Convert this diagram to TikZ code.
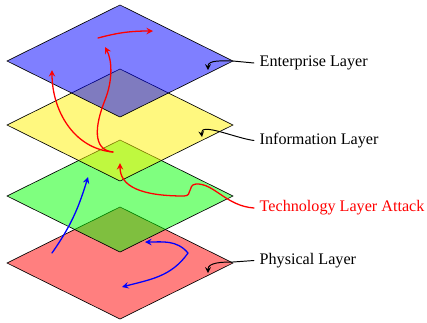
\documentclass[tikz,border=0pt]{standalone}
\usepackage{fontspec}
\setmainfont{Liberation Serif}
\usepackage{tikz}
\usetikzlibrary{arrows}
\tikzset{>=stealth}
\tikzset{layer/.style={draw=black, fill opacity=.5},
  lbl/.style={anchor=west},
  attack/.style={thick, red, ->},
  move/.style={thick, blue, ->},
  pointer/.style={semithick, ->}}

\begin{document}
\begin{tikzpicture}[line cap=round, x=0.6196pt, y=-0.6196pt]

  \useasboundingbox (0,0) rectangle (427,322);

  \draw [layer, fill=red] (7,263) -- (120,207) -- (233,263) -- (120,319) -- cycle;
  \draw [layer, fill=green] (7,196) -- (120,140) -- (233,196) -- (120,252) -- cycle;
  \draw [layer, fill=yellow] (7,125) -- (120,69) -- (233,125) -- (120,181) -- cycle;
  \draw [layer, fill=blue] (7,61) -- (120,5) -- (233,61) -- (120,117) -- cycle;



  \node [lbl] (ent) at (254,63) {Enterprise Layer};
  \node [lbl] (inf) at (254,140.5) {Information Layer};
  \node [lbl, red] (tech) at (254,208) {Technology Layer Attack};
  \node [lbl] (phy) at (254,260.5) {Physical Layer};

  \coordinate (entR) at (233,61);
  \coordinate (entT) at (208,70);
  \coordinate (infT) at (202,137);
  \coordinate (phyR) at (233,262);
  \coordinate (phyT) at (208,273);



  \draw [pointer] (ent.west) -- (entR) to[out=180,in=90] (entT);
  \draw [pointer] (inf.west) .. controls (235,138) and (200,122) .. (infT);
  \draw [pointer] (phy.west) -- (phyR) to[out=180,in=90] (phyT);



  \coordinate (techT) at (120,163);
  \coordinate (atk) at (113,152);
  \coordinate (atkA) at (52,70);
  \coordinate (atkB) at (105,47);
  \coordinate (entS) at (98,38);
  \coordinate (entE) at (153,31);

  \draw [attack] (tech.west) .. controls (226,206) and (214,183) .. (196,184)
    .. controls (187,185) and (193,196) .. (184,196)
    .. controls (140,196) and (120,186) .. (techT);
  \draw [attack] (atk) to[out=175,in=-90] (atkA);
  \draw [attack] (atk) .. controls (92,150) and (95,125) .. (105,100)
    .. controls (113,80) and (112,60) .. (atkB);
  \draw [attack] (entS) to[out=15,in=180] (entE);



  \coordinate (phyS) at (52,253);
  \coordinate (tecE) at (88,177);
  \coordinate (phyM) at (188,253);
  \coordinate (phyA) at (145,242);
  \coordinate (phyB) at (122,287);

  \draw [move] (phyS) to[out=55,in=-107] (tecE);
  \draw [move] (phyM) to[out=130,in=0] (phyA);
  \draw [move] (phyM) to[out=-125,in=15] (phyB);

\end{tikzpicture}
\end{document}
